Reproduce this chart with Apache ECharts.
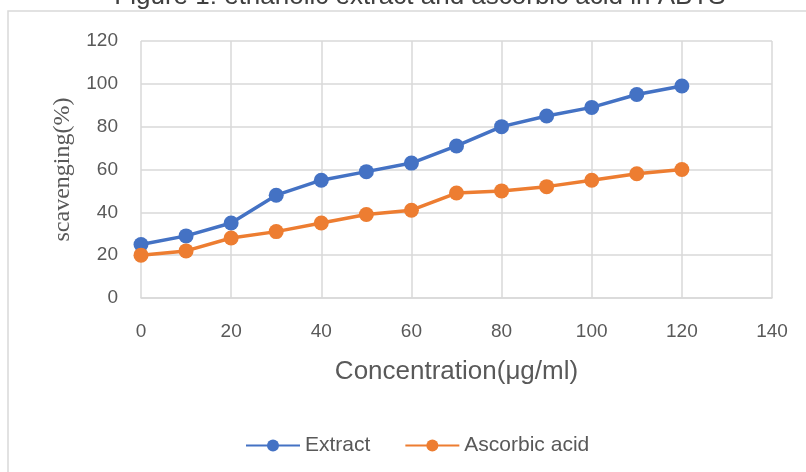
<!DOCTYPE html>
<html>
<head>
<meta charset="utf-8">
<script src="https://cdn.jsdelivr.net/npm/echarts@6/dist/echarts.min.js"></script>
<style>
  html, body { margin: 0; padding: 0; background: #fff; }
  #chart { width: 806px; height: 472px; }
</style>
</head>
<body>
<div id="chart"></div>
<script>
// concentrations (µg/ml)
var concentration = [0, 10, 20, 30, 40, 50, 60, 70, 80, 90, 100, 110, 120];
// scavenging %
var extract = [25, 29, 35, 48, 55, 59, 63, 71, 80, 85, 89, 95, 99];
var ascorbicAcid = [20, 22, 28, 31, 35, 39, 41, 49, 50, 52, 55, 58, 60];

var seriesNames = ['Extract', 'Ascorbic acid'];
var titleText = 'Figure 1: ethanolic extract and ascorbic acid in ABTS';

function pairs(xs, ys) {
  var res = [];
  for (var i = 0; i < xs.length; i++) {
    res.push([xs[i], ys[i]]);
  }
  return res;
}

var labelFont = 'Liberation Sans, Arial, sans-serif';

var myChart = echarts.init(document.getElementById('chart'));
var option = {
  animation: false,
  backgroundColor: '#fff',
  title: {
    text: titleText,
    left: 415,
    textAlign: 'center',
    top: -21,
    textStyle: { color: '#404040', fontSize: 26, fontWeight: 'normal', fontFamily: labelFont }
  },
  graphic: [{
    type: 'rect',
    shape: { x: 8, y: 11, width: 820, height: 480 },
    style: { fill: 'none', stroke: '#d9d9d9', lineWidth: 1.5 },
    silent: true
  }],
  grid: { left: 141, right: 34, top: 41, bottom: 174 },
  legend: {
    data: seriesNames,
    top: 430,
    left: 240,
    itemWidth: 54,
    itemHeight: 15,
    itemGap: 34,
    textStyle: { color: '#595959', fontSize: 21, fontFamily: labelFont }
  },
  xAxis: {
    type: 'value',
    min: 0,
    max: 140,
    interval: 20,
    name: 'Concentration(μg/ml)',
    nameLocation: 'middle',
    nameGap: 61,
    nameTextStyle: { color: '#595959', fontSize: 26, fontFamily: labelFont },
    axisLine: { show: true, lineStyle: { color: '#d9d9d9', width: 1.5 } },
    axisTick: { show: false },
    axisLabel: { color: '#595959', fontSize: 19, fontFamily: labelFont, margin: 24 },
    splitLine: { show: true, lineStyle: { color: '#d9d9d9', width: 1.5 } }
  },
  yAxis: {
    type: 'value',
    min: 0,
    max: 120,
    interval: 20,
    name: 'scavenging(%)',
    nameLocation: 'middle',
    nameRotate: 90,
    nameGap: 66,
    nameTextStyle: { color: '#595959', fontSize: 24, fontFamily: 'Liberation Serif, Times New Roman, serif' },
    axisLine: { show: false },
    axisTick: { show: false },
    axisLabel: { color: '#595959', fontSize: 19, fontFamily: labelFont, margin: 23 },
    splitLine: { show: true, lineStyle: { color: '#d9d9d9', width: 1.5 } }
  },
  series: [{
    name: seriesNames[0],
    type: 'line',
    data: pairs(concentration, extract),
    symbol: 'circle',
    symbolSize: 15,
    itemStyle: { color: '#4472c4' },
    lineStyle: { color: '#4472c4', width: 3.5 }
  }, {
    name: seriesNames[1],
    type: 'line',
    data: pairs(concentration, ascorbicAcid),
    symbol: 'circle',
    symbolSize: 15,
    itemStyle: { color: '#ed7d31' },
    lineStyle: { color: '#ed7d31', width: 3.5 }
  }]
};
myChart.setOption(option);
</script>
</body>
</html>
